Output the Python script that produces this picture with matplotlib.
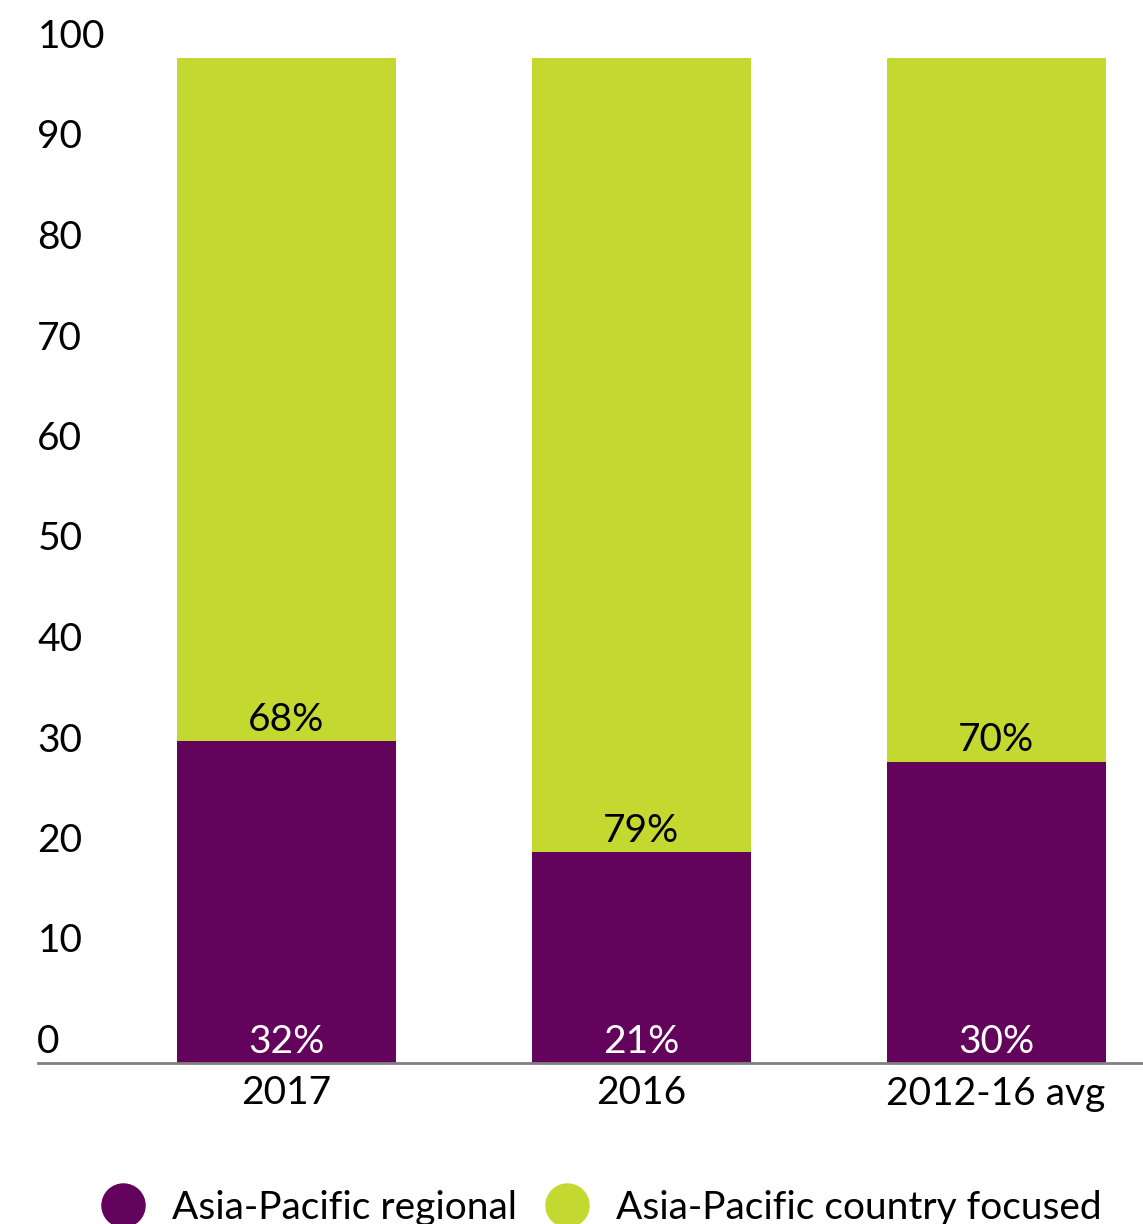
import matplotlib
matplotlib.use("Agg")
import matplotlib.pyplot as plt
import matplotlib.transforms as mtransforms
from matplotlib.lines import Line2D

plt.rcParams["font.family"] = ["Lato", "DejaVu Sans"]

# Data
categories = ["2017", "2016", "2012-16 avg"]
regional = [32, 21, 30]
country_focused = [68, 79, 70]
series_names = ["Asia-Pacific regional", "Asia-Pacific country focused"]
y_ticks = [0, 10, 20, 30, 40, 50, 60, 70, 80, 90, 100]

PURPLE = "#63035B"
GREEN = "#C3D92F"
AXIS_GREY = "#808080"
FS = 28

W, H = 1143, 1224
fig = plt.figure(figsize=(W / 100, H / 100), dpi=100)
ax = fig.add_axes([38 / W, (H - 1063) / H, (W - 38) / W, (1063 - 58) / H])

x = list(range(len(categories)))
bar_w = 0.617
ax.bar(x, regional, width=bar_w, color=PURPLE, zorder=2)
ax.bar(x, country_focused, width=bar_w, bottom=regional, color=GREEN, zorder=2)

ax.set_xlim(-0.699, 2.414)
ax.set_ylim(0, 100)

# Percentage labels: regional share at the base, country share above the split
for xi, r, c in zip(x, regional, country_focused):
    ax.annotate(f"{r}%", (xi, 0), xytext=(0, 7.5), textcoords="offset points",
                ha="center", va="baseline", color="white", fontsize=FS, zorder=3)
    ax.annotate(f"{c}%", (xi, r), xytext=(0, 7.5), textcoords="offset points",
                ha="center", va="baseline", color="black", fontsize=FS, zorder=3)

# Axes styling
for side in ["left", "right", "top"]:
    ax.spines[side].set_visible(False)
ax.spines["bottom"].set_color(AXIS_GREY)
ax.spines["bottom"].set_linewidth(2)
ax.spines["bottom"].set_zorder(3)

ax.set_xticks(x)
ax.set_xticklabels(categories, fontsize=FS)
ax.tick_params(axis="x", length=0, pad=9)

ax.set_yticks(y_ticks)
ax.set_yticklabels([str(t) for t in y_ticks], fontsize=FS)
ax.tick_params(axis="y", length=0, pad=0.5)
shift = mtransforms.ScaledTranslation(0, 10 / 100, fig.dpi_scale_trans)
for lab in ax.get_yticklabels():
    lab.set_horizontalalignment("left")
    lab.set_verticalalignment("baseline")
    lab.set_transform(lab.get_transform() + shift)

# Legend
handles = [
    Line2D([], [], marker="o", linestyle="none", markersize=31,
           markerfacecolor=PURPLE, markeredgecolor=PURPLE),
    Line2D([], [], marker="o", linestyle="none", markersize=31,
           markerfacecolor=GREEN, markeredgecolor=GREEN),
]
fig.legend(handles, series_names, loc="center left",
           bbox_to_anchor=(84 / W, 1 - 1208 / H), ncol=2, frameon=False,
           fontsize=FS, handletextpad=0.67, columnspacing=0.67,
           borderaxespad=0, handlelength=1.2)

fig.savefig("out.png", dpi=100)
